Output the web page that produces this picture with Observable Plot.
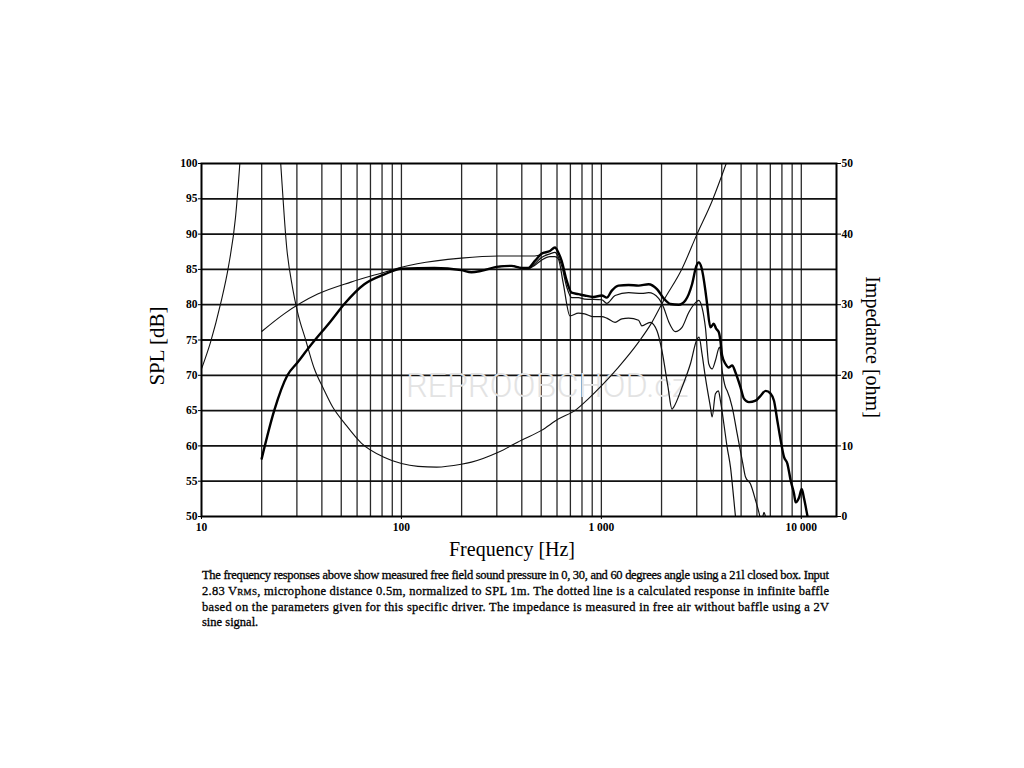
<!DOCTYPE html>
<html>
<head>
<meta charset="utf-8">
<script src="https://cdn.jsdelivr.net/npm/d3@7"></script>
<script src="https://cdn.jsdelivr.net/npm/@observablehq/plot@0.6"></script>
<style>
  html, body { margin: 0; padding: 0; background: #fff; }
  #chart svg, #caption svg { display: block; }
</style>
</head>
<body>
<div id="chart"></div>
<div id="caption"></div>
<script>
// ---------- data ----------
// 0° on-axis SPL (thick line)
const freq0 = [20,23.1,26.9,30.2,34.6,44.4,51.8,65.2,82.2,100,146,199,224,251,305,355,399,431,465,502,553,586,609,633,671,710,768,825,913,1005,1064,1128,1218,1368,1535,1723,1897,2049,2212,2438,2630,2842,2987,3070,3165,3314,3379,3511,3651,3750,3868,3940,4019,4176,4342,4511,4687,4966,5164,5472,5905,6257,6630,7023,7303,7586,7885,8200,8517,8848,9203,9373,9750,10050,10330,10730,11000];
const spl0 = [58.2,65.0,70.0,71.8,74.0,77.7,80.1,82.9,84.3,85.1,85.2,84.9,84.6,84.8,85.4,85.5,85.2,85.2,86.2,87.2,87.6,88.1,87.4,86.2,83.4,81.7,81.5,81.3,81.1,81.3,81.0,82.0,82.7,82.8,82.7,82.9,82.2,80.9,80.1,80.0,80.6,82.9,85.5,86.0,85.3,82.0,80.1,76.8,77.3,76.6,76.1,74.9,72.8,71.6,71.1,71.4,70.4,68.3,66.7,66.2,66.4,67.1,67.8,67.4,66.4,63.6,60.8,58.4,57.5,55.1,53.2,52.0,52.7,53.9,52.5,50.1,48.5];

// 30° SPL
const freq30 = [305,355,399,431,465,502,553,586,609,633,671,710,768,825,1005,1064,1171,1368,1594,1723,1934,2049,2171,2343,2532,2735,2960,3070,3189,3314,3447,3581,3720,3900,4019,4176,4258,4511,4780,5100,5260,5572,5905,6160,6300,6420,6508,6620,6750];
const spl30 = [85.4,85.5,85.2,85.1,85.8,86.7,87.2,87.4,86.8,85.5,82.5,81.0,81.0,80.8,80.7,80.2,81.3,81.7,81.6,81.7,80.9,79.6,77.6,76.2,76.8,78.9,80.3,80.6,79.6,76.8,71.6,70.9,72.1,74.0,70.7,68.3,67.8,65.5,61.7,57.5,55.6,54.6,52.3,50.4,49.2,50.0,50.6,50.0,49.2];

// 60° SPL
const freq60 = [305,355,399,431,465,502,553,586,609,645,697,768,825,913,1005,1064,1171,1266,1368,1535,1594,1755,1897,2009,2150,2256,2301,2532,2787,3010,3081,3189,3314,3511,3581,3720,3850,3940,4100,4258,4424,4601,4687,4800];
const spl60 = [85.4,85.5,85.2,85.1,85.6,86.3,86.8,86.8,86.5,83.0,78.4,78.8,78.7,78.3,78.3,78.1,77.5,78.0,78.1,77.8,77.0,77.5,76.3,73.5,68.5,65.2,65.5,68.3,71.6,75.1,75.4,73.0,69.7,65.5,64.1,67.4,67.8,66.4,63.1,59.8,57.0,52.3,50.0,48.0];

// calculated infinite-baffle response
const freqCalc = [20,25.9,38.1,55.9,82.2,100,120,199,305,465,502];
const splCalc = [76.2,78.7,81.5,83.2,84.6,85.3,85.8,86.6,86.9,86.9,87.1];

// impedance (ohm), right axis
const freqImp = [10,11.1,12.45,13.66,14.8,15.56,17.5,19.7,22,24.9,26.7,28.5,30.2,33.2,36.6,40.9,45.3,52,63,81.8,100,121,150,199,224,305,398,502,609,737,863,1000,1213,1535,1790,2049,2532,3010,3581,4224,5000];
const ohmImp = [20.9,24.7,30.1,35.5,42.4,50.1,75,95,75,50.0,38.0,32.5,29.0,25.0,21.0,18.0,15.5,13.2,10.4,8.4,7.5,7.1,7.0,7.4,7.7,9.1,10.8,12.2,13.8,15.0,16.7,18.5,21.1,24.7,27.5,30.6,35.1,40.0,44.7,50.1,56];

// axes / grid
const splTicks = [50,55,60,65,70,75,80,85,90,95,100];
const impTicks = [0,10,20,30,40,50];
const xTicks = [10,100,1000,10000];
const xTickLabels = ["10","100","1 000","10 000"];
const xGrid = [20,30,40,50,60,70,80,90,100,200,300,400,500,600,700,800,900,1000,2000,3000,4000,5000,6000,7000,8000,9000,10000];
const yGrid = [55,60,65,70,75,80,85,90,95];

// ---------- build ----------
const rows = (f, v) => f.map((x, i) => ({f: x, v: v[i]}));
const impToY = z => z + 50;            // 0–50 Ω shares the 50–100 dB scale
const xLabelMap = new Map(xTicks.map((t, i) => [t, xTickLabels[i]]));

const serif = "'Liberation Serif', 'DejaVu Serif', serif";

const chart = Plot.plot({
  width: 1024,
  height: 565,
  marginLeft: 201,
  marginRight: 188,
  marginTop: 163,
  marginBottom: 49,
  style: {fontFamily: serif, fontSize: "11.5px", fontWeight: "bold", color: "#000", background: "#fff"},
  x: {type: "log", domain: [10, 15000], axis: null},
  y: {domain: [50, 100], axis: null},
  marks: [
    Plot.ruleX(xGrid, {stroke: "#2a2a2a", strokeWidth: 1.3}),
    Plot.ruleY(yGrid, {stroke: "#111", strokeWidth: 1.8}),
    Plot.text(["REPROOBCHOD.cz"], {frameAnchor: "middle", dx: -113, dy: 46, textAnchor: "start", lineAnchor: "middle",
      fill: "#e3e3e3", fontSize: 34, fontFamily: "Roboto, 'Open Sans', sans-serif", fontWeight: 300}),
    Plot.line(rows(freqImp, ohmImp.map(impToY)), {x: "f", y: "v", curve: "monotone-x", clip: true, stroke: "#111", strokeWidth: 1.1}),
    Plot.line(rows(freqCalc, splCalc), {x: "f", y: "v", curve: "monotone-x", clip: true, stroke: "#111", strokeWidth: 1.1}),
    Plot.line(rows(freq60, spl60), {x: "f", y: "v", curve: "monotone-x", clip: true, stroke: "#111", strokeWidth: 1.2}),
    Plot.line(rows(freq30, spl30), {x: "f", y: "v", curve: "monotone-x", clip: true, stroke: "#111", strokeWidth: 1.2}),
    Plot.line(rows(freq0, spl0), {x: "f", y: "v", curve: "monotone-x", clip: true, stroke: "#000", strokeWidth: 2.4}),
    Plot.frame({stroke: "#000", strokeWidth: 2}),
    Plot.axisY({anchor: "left", ticks: splTicks, tickSize: 3, tickPadding: 1, label: null, tickFormat: d => String(d)}),
    Plot.axisY({anchor: "right", ticks: impTicks.map(impToY), tickSize: 4, tickPadding: 1, label: null, tickFormat: d => String(d - 50)}),
    Plot.axisX({ticks: xTicks, tickSize: 3, tickPadding: 3, label: null, tickFormat: d => xLabelMap.get(d)}),
    Plot.text(["Frequency [Hz]"], {frameAnchor: "bottom", dx: -7, dy: 33, textAnchor: "middle", lineAnchor: "middle", fontSize: 20, fontWeight: "normal"}),
    Plot.text(["SPL [dB]"], {frameAnchor: "left", dx: -44, dy: 6, rotate: -90, textAnchor: "middle", lineAnchor: "middle", fontSize: 21, fontWeight: "normal"}),
    Plot.text(["Impedance [ohm]"], {frameAnchor: "right", dx: 36, dy: 7, rotate: 90, textAnchor: "middle", lineAnchor: "middle", fontSize: 20, fontWeight: "normal"})
  ]
});
document.getElementById("chart").appendChild(chart);

// ---------- caption ----------
const capLines = [
  ["The frequency responses above show measured free field sound pressure in 0, 30, and 60 degrees angle using a 21l closed box. Input", true],
  [null, true],
  ["based on the parameters given for this specific driver. The impedance is measured in free air without baffle using a 2V", true],
  ["sine signal.", false]
];
const cap = d3.create("svg").attr("width", 1024).attr("height", 100)
  .style("font-family", serif).style("font-size", "12.5px")
  .style("fill", "#000").style("stroke", "#000").style("stroke-width", "0.3px");
const baselines = [14, 30, 46, 61];
capLines.forEach(([txt, justify], i) => {
  const t = cap.append("text").attr("x", 202).attr("y", baselines[i]);
  if (justify) t.attr("textLength", 627).attr("lengthAdjust", "spacing");
  if (txt === null) {
    t.append("tspan").text("2.83 V");
    t.append("tspan").style("font-size", "9px").text("RMS");
    t.append("tspan").text(", microphone distance 0.5m, normalized to SPL 1m. The dotted line is a calculated response in infinite baffle");
  } else {
    t.text(txt);
  }
});
document.getElementById("caption").appendChild(cap.node());
</script>
</body>
</html>
